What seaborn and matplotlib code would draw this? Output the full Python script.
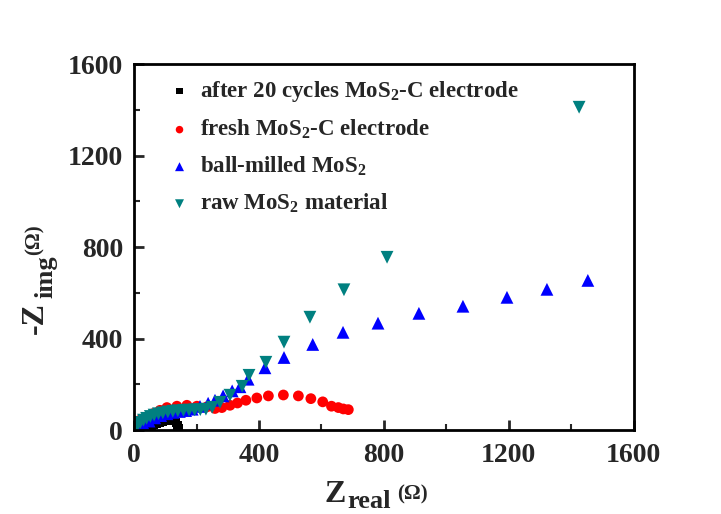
import numpy as np
import pandas as pd
import seaborn as sns
import matplotlib
matplotlib.use("Agg")
import matplotlib.pyplot as plt
from matplotlib.ticker import MultipleLocator

# ---- data ----
cyc_x = [30, 38, 46, 55, 64, 73, 82, 91, 100, 108, 116, 123, 129, 134, 138, 141]
cyc_y = [3, 8, 14, 20, 25, 30, 34, 38, 41, 44, 46, 47, 44, 34, 22, 9]

fresh_x = [9, 19, 41, 62, 83, 105, 137, 169, 201, 233, 259, 281, 307, 331, 358,
           393, 430, 478, 526, 566, 604, 632, 654, 670, 686]
fresh_y = [29, 44, 58, 73, 87, 99, 105, 109, 105, 102, 95, 99, 109, 119, 131,
           141, 150, 154, 150, 138, 124, 105, 99, 93, 90]

ball_x = [5, 15, 30, 48, 66, 85, 105, 125, 145, 165, 186, 211, 237, 259, 285,
          314, 339, 365, 419, 480, 572, 669, 781, 912, 1053, 1194, 1322, 1453]
ball_y = [6, 16, 26, 40, 54, 64, 72, 78, 82, 86, 92, 104, 118, 131, 150,
          172, 190, 223, 273, 318, 375, 428, 468, 511, 542, 581, 616, 655]

raw_x = [5, 12, 20, 30, 40, 52, 64, 78, 92, 108, 124, 140, 158, 176, 194, 212,
         230, 250, 275, 307, 346, 368, 422, 480, 563, 672, 810, 1425]
raw_y = [12, 24, 34, 44, 52, 60, 66, 72, 76, 80, 83, 85, 87, 88, 89, 90,
         92, 100, 122, 153, 192, 240, 297, 385, 494, 614, 756, 1412]

labels = ["after 20 cycles MoS$_2$-C electrode",
          "fresh MoS$_2$-C electrode",
          "ball-milled MoS$_2$",
          "raw MoS$_2$ material"]
x_ticks = [0, 400, 800, 1200, 1600]
y_ticks = [0, 400, 800, 1200, 1600]

# ---- style ----
sns.set_style("white")
plt.rcParams["font.family"] = ["Liberation Serif", "DejaVu Serif"]
plt.rcParams["font.weight"] = "bold"
plt.rcParams["mathtext.fontset"] = "custom"
plt.rcParams["mathtext.rm"] = "Liberation Serif:bold"
plt.rcParams["mathtext.bf"] = "Liberation Serif:bold"
plt.rcParams["mathtext.it"] = "Liberation Serif:bold"
plt.rcParams["mathtext.default"] = "rm"

W, H = 721, 514
fig = plt.figure(figsize=(W / 100, H / 100), dpi=100)
ax = fig.add_axes([0.186, 0.163, 0.693, 0.712])

series = [
    (cyc_x, cyc_y, "s", "#000000", 40),
    (fresh_x, fresh_y, "o", "#ff0000", 60),
    (ball_x, ball_y, "^", "#0000ff", 85),
    (raw_x, raw_y, "v", "#008080", 85),
]
for (xs, ys, m, c, s), lab in zip(series, labels):
    df = pd.DataFrame({"x": xs, "y": ys})
    sns.scatterplot(data=df, x="x", y="y", marker=m, color=c, s=s,
                    edgecolor="none", linewidth=0, label=lab, ax=ax)

ax.set_xlim(0, 1600)
ax.set_ylim(0, 1600)
ax.set_xticks(x_ticks)
ax.set_yticks(y_ticks)
ax.xaxis.set_minor_locator(MultipleLocator(200))
ax.yaxis.set_minor_locator(MultipleLocator(200))
ax.tick_params(which="major", direction="in", length=7, width=2,
               labelsize=20, bottom=True, left=True, top=False, right=False)
ax.tick_params(which="minor", direction="in", length=4, width=1.5,
               bottom=True, left=True, top=False, right=False)
ax.tick_params(axis="x", pad=9)
ax.tick_params(axis="y", pad=8)
for lab in ax.get_xticklabels() + ax.get_yticklabels():
    lab.set_fontweight("bold")
for sp in ax.spines.values():
    sp.set_linewidth(2)
    sp.set_color("black")

ax.set_xlabel("")
ax.set_ylabel("")


def ptxt(px, py, s, size, rot=0):
    fig.text(px / W, 1 - py / H, s, fontsize=size, fontweight="bold",
             rotation=rot, rotation_mode="anchor", ha="left", va="baseline")


# x axis label: Z_real (Ω)
ptxt(324, 502, "Z", 23)
ptxt(347, 508, "real", 19)
ptxt(397, 499, "(Ω)", 15)
# y axis label: -Z_img (Ω)
ptxt(43, 334, "-Z", 23, 90)
ptxt(52, 298, "img", 19, 90)
ptxt(40, 255, "(Ω)", 15, 90)

leg = ax.legend(loc="upper left", bbox_to_anchor=(0.045, 0.985), frameon=False,
                fontsize=16.5, markerscale=0.7, handletextpad=0.3,
                labelspacing=0.6, handlelength=1.2, borderaxespad=0)
for t in leg.get_texts():
    t.set_fontweight("bold")

fig.savefig("out.png", dpi=100, facecolor="white")
